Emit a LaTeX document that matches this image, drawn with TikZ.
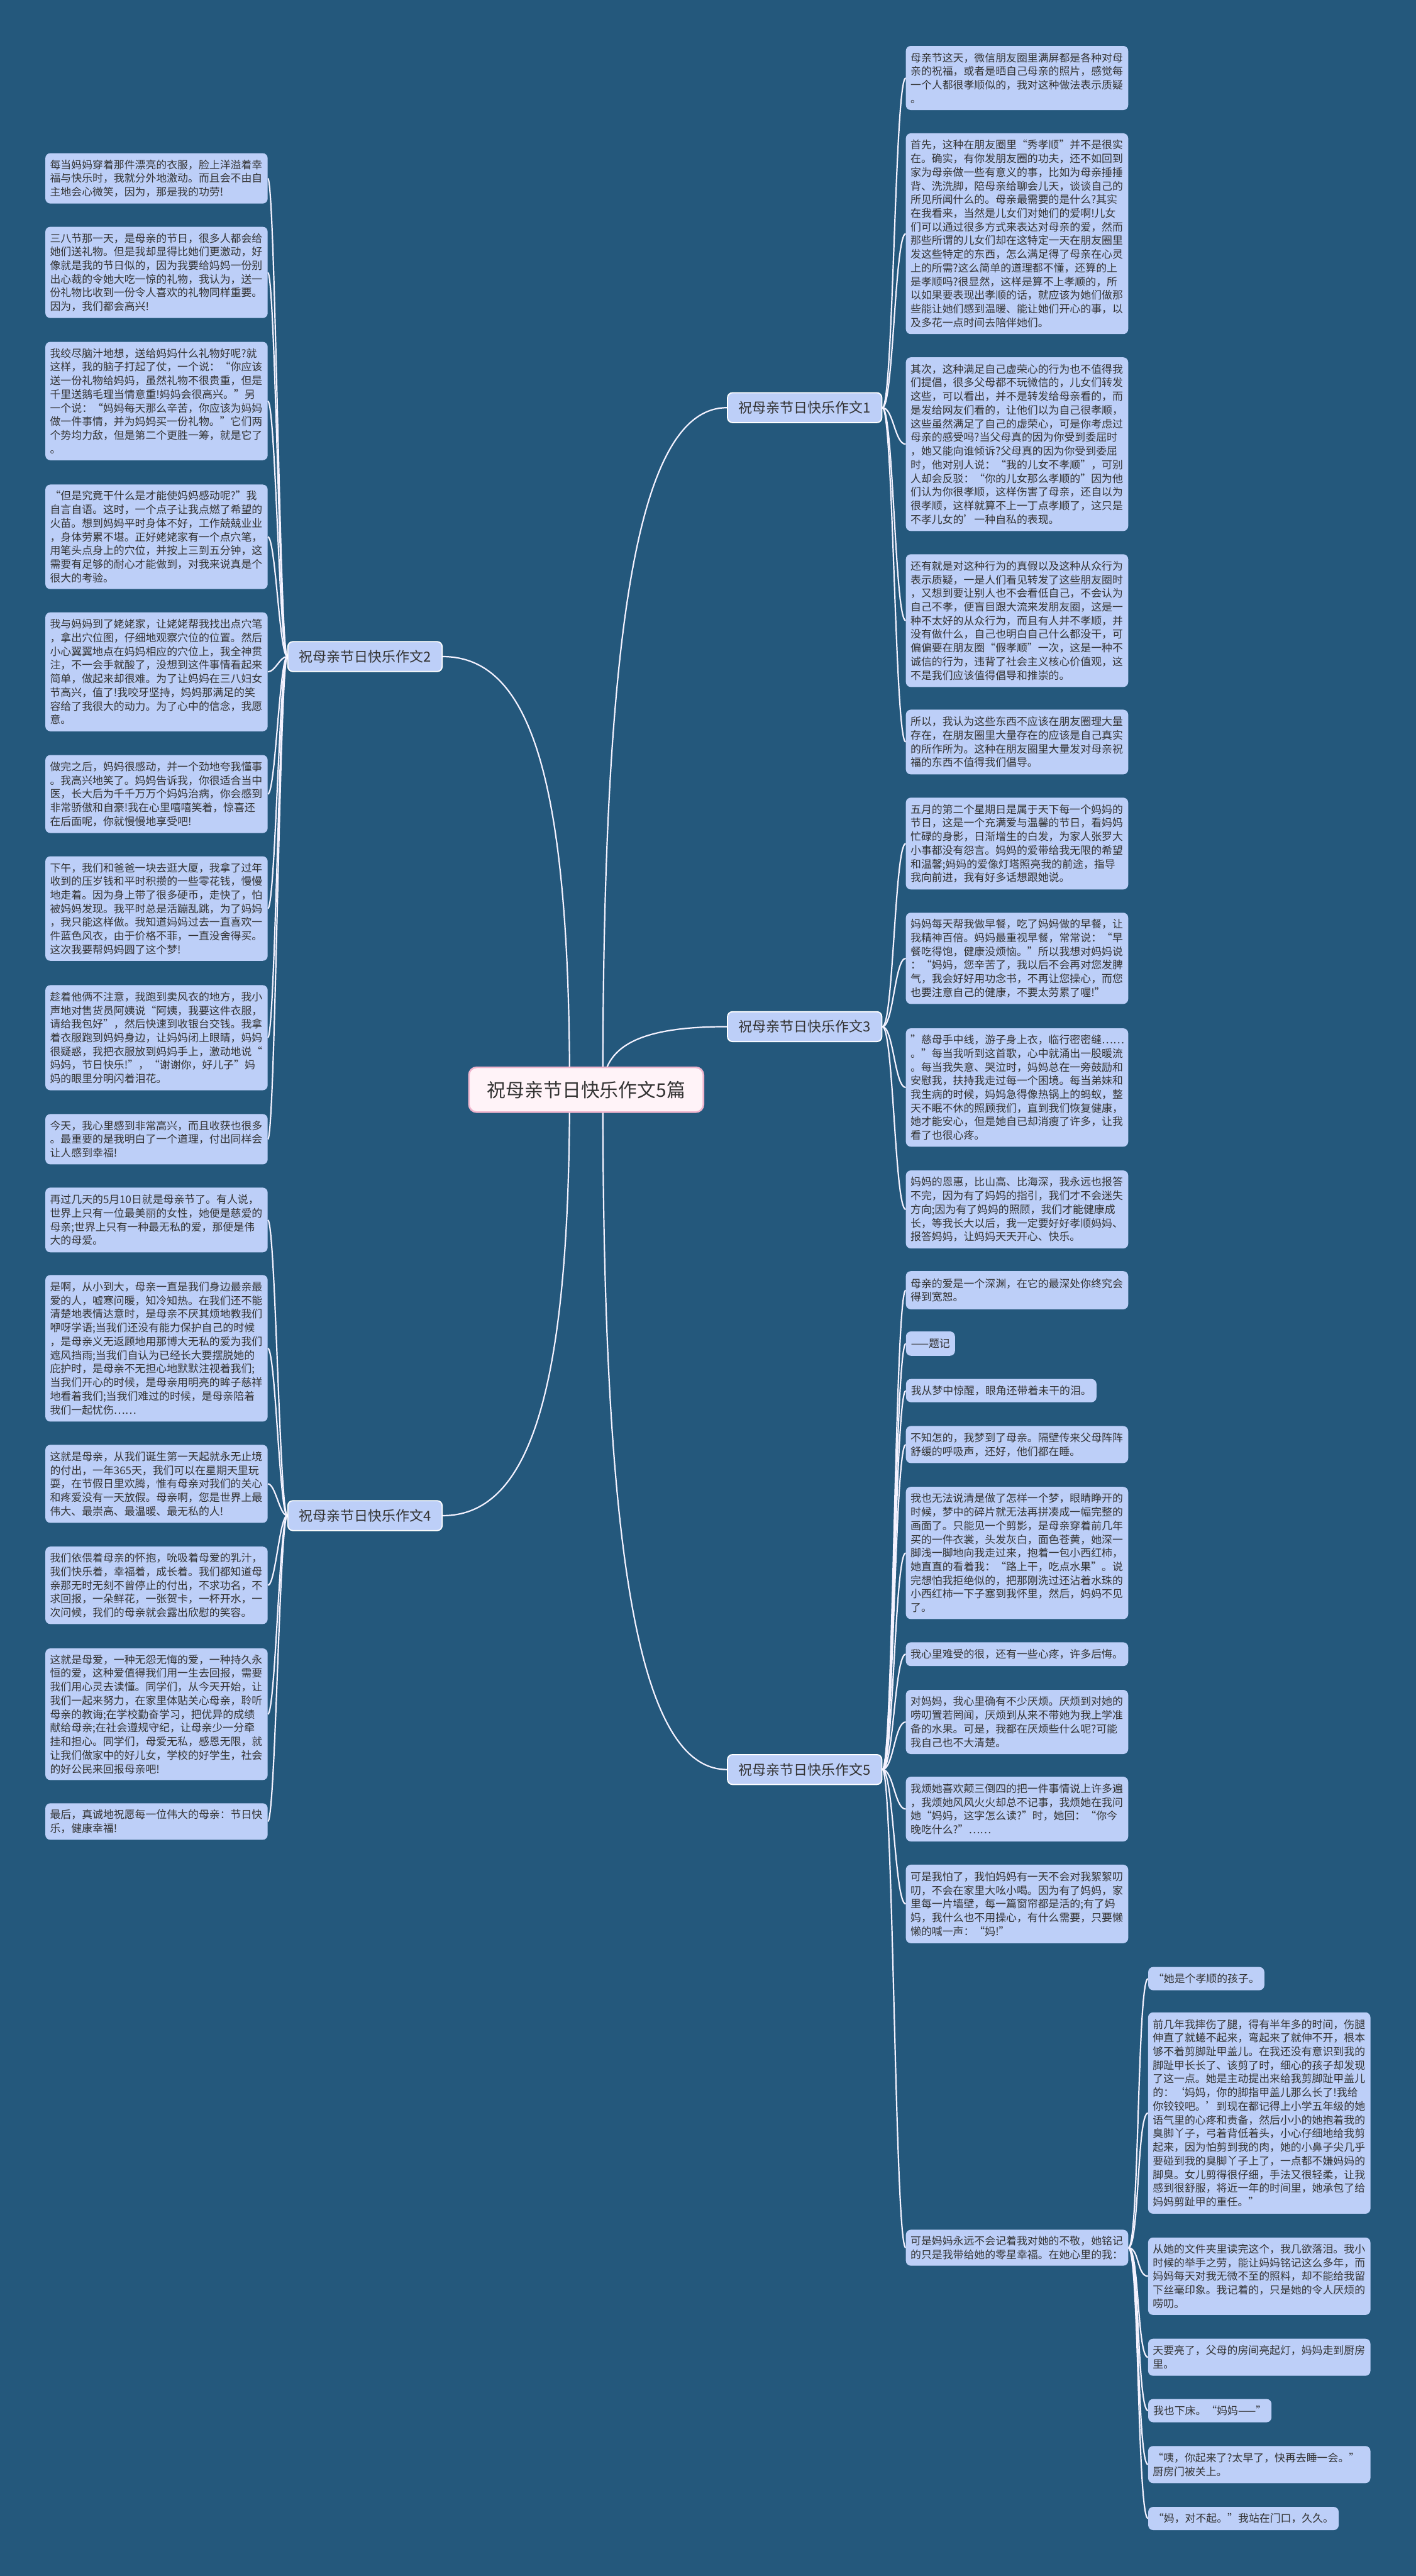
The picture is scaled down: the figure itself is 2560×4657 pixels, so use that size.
\documentclass[tikz,border=0pt]{standalone}
\usepackage{fontspec}
\setmainfont{Noto Sans CJK SC}
\definecolor{bgc}{HTML}{24587C}
\definecolor{boxc}{HTML}{BDCFF8}
\definecolor{txt}{HTML}{333333}
\definecolor{linec}{HTML}{F4F2FF}
\definecolor{rootfill}{HTML}{FFF3F8}
\definecolor{rootdraw}{HTML}{F0B5CD}
\pgfdeclarelayer{back}\pgfdeclarelayer{links}\pgfsetlayers{back,links,main}
\newcommand\leaffont{\fontsize{19.2}{24.7}\selectfont}
\newcommand\leafbox[5]{\node[leaf,minimum height={(#4)-(#3)}] (#1) at (#2,{((#3)+(#4))/2}) {#5};}
\newcommand\leafnarrow[5]{\node[leafn,minimum height={(#4)-(#3)},anchor=west] (#1) at (#2,{((#3)+(#4))/2}) {#5};}
\newcommand\linkright[2]{\draw[link] (#1.east) .. controls +(20,0) and +(-20,0) .. (#2.west);}
\newcommand\linkleft[2]{\draw[link] (#1.west) .. controls +(-14,0) and +(14,0) .. (#2.east);}
\begin{document}
\begin{tikzpicture}[x=1pt,y=-1pt,
  leaf/.style={fill=boxc,rounded corners=9pt,text=txt,font=\leaffont,text width=385pt,inner xsep=8.5pt,inner ysep=0pt,align=left},
  leafn/.style={fill=boxc,rounded corners=9pt,text=txt,font=\leaffont,inner xsep=9pt,inner ysep=0pt},
  branch/.style={fill=boxc,draw=white,line width=2pt,rounded corners=9pt,text=txt,font=\fontsize{25}{30}\selectfont,minimum width=279pt,minimum height=54pt,inner sep=0pt},
  rootn/.style={fill=rootfill,draw=rootdraw,line width=3pt,rounded corners=14pt,text=txt,font=\fontsize{34}{40}\selectfont,minimum width=424pt,minimum height=81pt,inner sep=0pt},
  link/.style={draw=linec,line width=2.5pt}]
\begin{pgfonlayer}{back}
\fill[bgc] (0,0) rectangle (2560,4657);
\end{pgfonlayer}
\useasboundingbox (0,0) rectangle (2560,4657);

% root and branches
\node[rootn] (root) at (1060,1970) {祝母亲节日快乐作文5篇};
\node[branch] (b1) at (1455,737) {祝母亲节日快乐作文1};
\node[branch] (b2) at (660,1187) {祝母亲节日快乐作文2};
\node[branch] (b3) at (1455,1856) {祝母亲节日快乐作文3};
\node[branch] (b4) at (660,2740) {祝母亲节日快乐作文4};
\node[branch] (b5) at (1455,3199) {祝母亲节日快乐作文5};

% left column, branch 2
\leafbox{L1}{283}{277}{368}{每当妈妈穿着那件漂亮的衣服，脸上洋溢着幸\\福与快乐时，我就分外地激动。而且会不由自\\主地会心微笑，因为，那是我的功劳!}
\leafbox{L2}{283}{410}{575}{三八节那一天，是母亲的节日，很多人都会给\\她们送礼物。但是我却显得比她们更激动，好\\像就是我的节日似的，因为我要给妈妈一份别\\出心裁的令她大吃一惊的礼物，我认为，送一\\份礼物比收到一份令人喜欢的礼物同样重要。\\因为，我们都会高兴!}
\leafbox{L3}{283}{618}{832}{我绞尽脑汁地想，送给妈妈什么礼物好呢?就\\这样，我的脑子打起了仗，一个说：“你应该\\送一份礼物给妈妈，虽然礼物不很贵重，但是\\千里送鹅毛理当情意重!妈妈会很高兴。”另\\一个说：“妈妈每天那么辛苦，你应该为妈妈\\做一件事情，并为妈妈买一份礼物。”它们两\\个势均力敌，但是第二个更胜一筹，就是它了\\。}
\leafbox{L4}{283}{876}{1065}{“但是究竟干什么是才能使妈妈感动呢?”我\\自言自语。这时，一个点子让我点燃了希望的\\火苗。想到妈妈平时身体不好，工作兢兢业业\\，身体劳累不堪。正好姥姥家有一个点穴笔，\\用笔头点身上的穴位，并按上三到五分钟，这\\需要有足够的耐心才能做到，对我来说真是个\\很大的考验。}
\leafbox{L5}{283}{1107}{1322}{我与妈妈到了姥姥家，让姥姥帮我找出点穴笔\\，拿出穴位图，仔细地观察穴位的位置。然后\\小心翼翼地点在妈妈相应的穴位上，我全神贯\\注，不一会手就酸了，没想到这件事情看起来\\简单，做起来却很难。为了让妈妈在三八妇女\\节高兴，值了!我咬牙坚持，妈妈那满足的笑\\容给了我很大的动力。为了心中的信念，我愿\\意。}
\leafbox{L6}{283}{1365}{1506}{做完之后，妈妈很感动，并一个劲地夸我懂事\\。我高兴地笑了。妈妈告诉我，你很适合当中\\医，长大后为千千万万个妈妈治病，你会感到\\非常骄傲和自豪!我在心里嘻嘻笑着，惊喜还\\在后面呢，你就慢慢地享受吧!}
\leafbox{L7}{283}{1548}{1737}{下午，我们和爸爸一块去逛大厦，我拿了过年\\收到的压岁钱和平时积攒的一些零花钱，慢慢\\地走着。因为身上带了很多硬币，走快了，怕\\被妈妈发现。我平时总是活蹦乱跳，为了妈妈\\，我只能这样做。我知道妈妈过去一直喜欢一\\件蓝色风衣，由于价格不菲，一直没舍得买。\\这次我要帮妈妈圆了这个梦!}
\leafbox{L8}{283}{1781}{1971}{趁着他俩不注意，我跑到卖风衣的地方，我小\\声地对售货员阿姨说“阿姨，我要这件衣服，\\请给我包好”，然后快速到收银台交钱。我拿\\着衣服跑到妈妈身边，让妈妈闭上眼睛，妈妈\\很疑惑，我把衣服放到妈妈手上，激动地说“\\妈妈，节日快乐!”，“谢谢你，好儿子”妈\\妈的眼里分明闪着泪花。}
\leafbox{L9}{283}{2014}{2105}{今天，我心里感到非常高兴，而且收获也很多\\。最重要的是我明白了一个道理，付出同样会\\让人感到幸福!}

% left column, branch 4
\leafbox{L10}{283}{2147}{2264}{再过几天的5月10日就是母亲节了。有人说，\\世界上只有一位最美丽的女性，她便是慈爱的\\母亲;世界上只有一种最无私的爱，那便是伟\\大的母爱。}
\leafbox{L11}{283}{2305}{2570}{是啊，从小到大，母亲一直是我们身边最亲最\\爱的人，嘘寒问暖，知冷知热。在我们还不能\\清楚地表情达意时，是母亲不厌其烦地教我们\\咿呀学语;当我们还没有能力保护自己的时候\\，是母亲义无返顾地用那博大无私的爱为我们\\遮风挡雨;当我们自认为已经长大要摆脱她的\\庇护时，是母亲不无担心地默默注视着我们;\\当我们开心的时候，是母亲用明亮的眸子慈祥\\地看着我们;当我们难过的时候，是母亲陪着\\我们一起忧伤……}
\leafbox{L12}{283}{2612}{2753}{这就是母亲，从我们诞生第一天起就永无止境\\的付出，一年365天，我们可以在星期天里玩\\耍，在节假日里欢腾，惟有母亲对我们的关心\\和疼爱没有一天放假。母亲啊，您是世界上最\\伟大、最崇高、最温暖、最无私的人!}
\leafbox{L13}{283}{2796}{2936}{我们依偎着母亲的怀抱，吮吸着母爱的乳汁，\\我们快乐着，幸福着，成长着。我们都知道母\\亲那无时无刻不曾停止的付出，不求功名，不\\求回报，一朵鲜花，一张贺卡，一杯开水，一\\次问候，我们的母亲就会露出欣慰的笑容。}
\leafbox{L14}{283}{2980}{3218}{这就是母爱，一种无怨无悔的爱，一种持久永\\恒的爱，这种爱值得我们用一生去回报，需要\\我们用心灵去读懂。同学们，从今天开始，让\\我们一起来努力，在家里体贴关心母亲，聆听\\母亲的教诲;在学校勤奋学习，把优异的成绩\\献给母亲;在社会遵规守纪，让母亲少一分牵\\挂和担心。同学们，母爱无私，感恩无限，就\\让我们做家中的好儿女，学校的好学生，社会\\的好公民来回报母亲吧!}
\leafbox{L15}{283}{3260}{3326}{最后，真诚地祝愿每一位伟大的母亲：节日快\\乐，健康幸福!}

% right column, branch 1
\leafbox{R1}{1839}{83}{199}{母亲节这天，微信朋友圈里满屏都是各种对母\\亲的祝福，或者是晒自己母亲的照片，感觉每\\一个人都很孝顺似的，我对这种做法表示质疑\\。}
\leafbox{R2}{1839}{241}{604}{首先，这种在朋友圈里“秀孝顺”并不是很实\\在。确实，有你发朋友圈的功夫，还不如回到\\家为母亲做一些有意义的事，比如为母亲捶捶\\背、洗洗脚，陪母亲给聊会儿天，谈谈自己的\\所见所闻什么的。母亲最需要的是什么?其实\\在我看来，当然是儿女们对她们的爱啊!儿女\\们可以通过很多方式来表达对母亲的爱，然而\\那些所谓的儿女们却在这特定一天在朋友圈里\\发这些特定的东西，怎么满足得了母亲在心灵\\上的所需?这么简单的道理都不懂，还算的上\\是孝顺吗?很显然，这样是算不上孝顺的，所\\以如果要表现出孝顺的话，就应该为她们做那\\些能让她们感到温暖、能让她们开心的事，以\\及多花一点时间去陪伴她们。}
\leafbox{R3}{1839}{646}{960}{其次，这种满足自己虚荣心的行为也不值得我\\们提倡，很多父母都不玩微信的，儿女们转发\\这些，可以看出，并不是转发给母亲看的，而\\是发给网友们看的，让他们以为自己很孝顺，\\这些虽然满足了自己的虚荣心，可是你考虑过\\母亲的感受吗?当父母真的因为你受到委屈时\\，她又能向谁倾诉?父母真的因为你受到委屈\\时，他对别人说：“我的儿女不孝顺”，可别\\人却会反驳：“你的儿女那么孝顺的”因为他\\们认为你很孝顺，这样伤害了母亲，还自以为\\很孝顺，这样就算不上一丁点孝顺了，这只是\\不孝儿女的'一种自私的表现。}
\leafbox{R4}{1839}{1002}{1242}{还有就是对这种行为的真假以及这种从众行为\\表示质疑，一是人们看见转发了这些朋友圈时\\，又想到要让别人也不会看低自己，不会认为\\自己不孝，便盲目跟大流来发朋友圈，这是一\\种不太好的从众行为，而且有人并不孝顺，并\\没有做什么，自己也明白自己什么都没干，可\\偏偏要在朋友圈“假孝顺”一次，这是一种不\\诚信的行为，违背了社会主义核心价值观，这\\不是我们应该值得倡导和推崇的。}
\leafbox{R5}{1839}{1283}{1400}{所以，我认为这些东西不应该在朋友圈理大量\\存在，在朋友圈里大量存在的应该是自己真实\\的所作所为。这种在朋友圈里大量发对母亲祝\\福的东西不值得我们倡导。}

% right column, branch 3
\leafbox{R6}{1839}{1442}{1608}{五月的第二个星期日是属于天下每一个妈妈的\\节日，这是一个充满爱与温馨的节日，看妈妈\\忙碌的身影，日渐增生的白发，为家人张罗大\\小事都没有怨言。妈妈的爱带给我无限的希望\\和温馨;妈妈的爱像灯塔照亮我的前途，指导\\我向前进，我有好多话想跟她说。}
\leafbox{R7}{1839}{1650}{1815}{妈妈每天帮我做早餐，吃了妈妈做的早餐，让\\我精神百倍。妈妈最重视早餐，常常说：“早\\餐吃得饱，健康没烦恼。”所以我想对妈妈说\\：“妈妈，您辛苦了，我以后不会再对您发脾\\气，我会好好用功念书，不再让您操心，而您\\也要注意自己的健康，不要太劳累了喔!”}
\leafbox{R8}{1839}{1859}{2073}{”慈母手中线，游子身上衣，临行密密缝……\\。”每当我听到这首歌，心中就涌出一股暖流\\。每当我失意、哭泣时，妈妈总在一旁鼓励和\\安慰我，扶持我走过每一个困境。每当弟妹和\\我生病的时候，妈妈急得像热锅上的蚂蚁，整\\天不眠不休的照顾我们，直到我们恢复健康，\\她才能安心，但是她自已却消瘦了许多，让我\\看了也很心疼。}
\leafbox{R9}{1839}{2116}{2257}{妈妈的恩惠，比山高、比海深，我永远也报答\\不完，因为有了妈妈的指引，我们才不会迷失\\方向;因为有了妈妈的照顾，我们才能健康成\\长，等我长大以后，我一定要好好孝顺妈妈、\\报答妈妈，让妈妈天天开心、快乐。}

% right column, branch 5
\leafbox{R10}{1839}{2298}{2367}{母亲的爱是一个深渊，在它的最深处你终究会\\得到宽恕。}
\leafnarrow{R11}{1638}{2407}{2451}{——题记}
\leafnarrow{R12}{1638}{2493}{2535}{我从梦中惊醒，眼角还带着未干的泪。}
\leafbox{R13}{1839}{2578}{2645}{不知怎的，我梦到了母亲。隔壁传来父母阵阵\\舒缓的呼吸声，还好，他们都在睡。}
\leafbox{R14}{1839}{2688}{2927}{我也无法说清是做了怎样一个梦，眼睛睁开的\\时候，梦中的碎片就无法再拼凑成一幅完整的\\画面了。只能见一个剪影，是母亲穿着前几年\\买的一件衣裳，头发灰白，面色苍黄，她深一\\脚浅一脚地向我走过来，抱着一包小西红柿，\\她直直的看着我：“路上干，吃点水果”。说\\完想怕我拒绝似的，把那刚洗过还沾着水珠的\\小西红柿一下子塞到我怀里，然后，妈妈不见\\了。}
\leafbox{R15}{1839}{2969}{3012}{我心里难受的很，还有一些心疼，许多后悔。}
\leafbox{R16}{1839}{3055}{3171}{对妈妈，我心里确有不少厌烦。厌烦到对她的\\唠叨置若罔闻，厌烦到从来不带她为我上学准\\备的水果。可是，我都在厌烦些什么呢?可能\\我自己也不大清楚。}
\leafbox{R17}{1839}{3212}{3329}{我烦她喜欢颠三倒四的把一件事情说上许多遍\\，我烦她风风火火却总不记事，我烦她在我问\\她“妈妈，这字怎么读?”时，她回：“你今\\晚吃什么?”……}
\leafbox{R18}{1839}{3371}{3513}{可是我怕了，我怕妈妈有一天不会对我絮絮叨\\叨，不会在家里大吆小喝。因为有了妈妈，家\\里每一片墙壁，每一篇窗帘都是活的;有了妈\\妈，我什么也不用操心，有什么需要，只要懒\\懒的喊一声：“妈!”}
\leafbox{R19}{1839}{4031}{4096}{可是妈妈永远不会记着我对她的不敬，她铭记\\的只是我带给她的零星幸福。在她心里的我：}

% bottom right group
\leafnarrow{B1}{2076}{3556}{3598}{“她是个孝顺的孩子。}
\leafbox{B2}{2277}{3638}{4002}{前几年我摔伤了腿，得有半年多的时间，伤腿\\伸直了就蜷不起来，弯起来了就伸不开，根本\\够不着剪脚趾甲盖儿。在我还没有意识到我的\\脚趾甲长长了、该剪了时，细心的孩子却发现\\了这一点。她是主动提出来给我剪脚趾甲盖儿\\的：‘妈妈，你的脚指甲盖儿那么长了!我给\\你铰铰吧。’到现在都记得上小学五年级的她\\语气里的心疼和责备，然后小小的她抱着我的\\臭脚丫子，弓着背低着头，小心仔细地给我剪\\起来，因为怕剪到我的肉，她的小鼻子尖几乎\\要碰到我的臭脚丫子上了，一点都不嫌妈妈的\\脚臭。女儿剪得很仔细，手法又很轻柔，让我\\感到很舒服，将近一年的时间里，她承包了给\\妈妈剪趾甲的重任。”}
\leafbox{B3}{2277}{4045}{4185}{从她的文件夹里读完这个，我几欲落泪。我小\\时候的举手之劳，能让妈妈铭记这么多年，而\\妈妈每天对我无微不至的照料，却不能给我留\\下丝毫印象。我记着的，只是她的令人厌烦的\\唠叨。}
\leafbox{B4}{2277}{4228}{4295}{天要亮了，父母的房间亮起灯，妈妈走到厨房\\里。}
\leafnarrow{B5}{2076}{4337}{4379}{我也下床。“妈妈——”}
\leafbox{B6}{2277}{4422}{4489}{“咦，你起来了?太早了，快再去睡一会。”\\厨房门被关上。}
\leafnarrow{B7}{2076}{4532}{4574}{“妈，对不起。”我站在门口，久久。}

\begin{pgfonlayer}{links}
\draw[link] ([xshift=30pt]root.center) .. controls (1090,1107) and (1158,737) .. (b1.west);
\draw[link] ([xshift=30pt]root.center) .. controls (1090,1890) and (1158,1856) .. (b3.west);
\draw[link] ([xshift=30pt]root.center) .. controls (1090,2830) and (1158,3199) .. (b5.west);
\draw[link] ([xshift=-30pt]root.center) .. controls (1030,1420) and (963,1187) .. (b2.east);
\draw[link] ([xshift=-30pt]root.center) .. controls (1030,2500) and (963,2740) .. (b4.east);
\foreach \n in {R1,R2,R3,R4,R5}{\linkright{b1}{\n}}
\foreach \n in {R6,R7,R8,R9}{\linkright{b3}{\n}}
\foreach \n in {R10,R11,R12,R13,R14,R15,R16,R17,R18,R19}{\linkright{b5}{\n}}
\foreach \n in {B1,B2,B3,B4,B5,B6,B7}{\linkright{R19}{\n}}
\foreach \n in {L1,L2,L3,L4,L5,L6,L7,L8,L9}{\linkleft{b2}{\n}}
\foreach \n in {L10,L11,L12,L13,L14,L15}{\linkleft{b4}{\n}}
\end{pgfonlayer}
\end{tikzpicture}
\end{document}
